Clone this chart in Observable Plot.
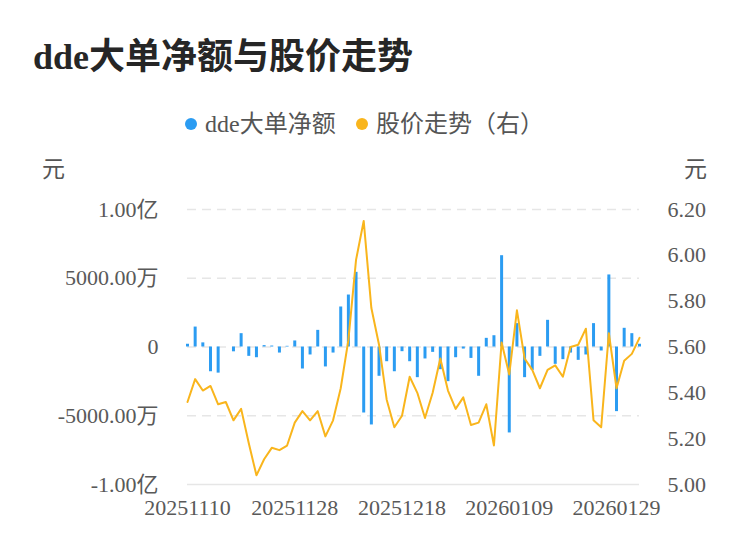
<!DOCTYPE html>
<html>
<head>
<meta charset="utf-8">
<script src="https://cdn.jsdelivr.net/npm/d3@7"></script>
<script src="https://cdn.jsdelivr.net/npm/@observablehq/plot@0.6"></script>
<style>
  html, body { margin: 0; padding: 0; background: #fff; }
  #wrap { position: relative; width: 750px; height: 558px; overflow: hidden;
          font-family: "Liberation Serif", "Noto Sans CJK SC", serif; }
  .abs { position: absolute; white-space: nowrap; }
  #title { left: 33px; top: 36px; font-size: 36px; line-height: 42px; font-weight: bold; color: #262626; }
  .leg { font-size: 24px; line-height: 28px; color: #555; }
  .dot { width: 12px; height: 12px; border-radius: 6px; }
  .unit { font-size: 23px; line-height: 24px; color: #555; }
  #chart { left: 0; top: 150px; }
</style>
</head>
<body>
<div id="wrap">
  <div id="title" class="abs">dde大单净额与股价走势</div>
  <div class="abs dot" style="left:185px;top:118px;background:#2b9cf2"></div>
  <div class="abs leg" style="left:205px;top:110px">dde大单净额</div>
  <div class="abs dot" style="left:356px;top:118px;background:#f9b51c"></div>
  <div class="abs leg" style="left:376px;top:110px">股价走势（右）</div>
  <div class="abs unit" style="left:42px;top:158px">元</div>
  <div class="abs unit" style="left:684px;top:158px">元</div>
  <div id="chart" class="abs"></div>
</div>
<script>
const dates = [
  "20251110","20251111","20251112","20251113","20251114",
  "20251117","20251118","20251119","20251120","20251121",
  "20251124","20251125","20251126","20251127","20251128",
  "20251201","20251202","20251203","20251204","20251205",
  "20251208","20251209","20251210","20251211","20251212",
  "20251215","20251216","20251217","20251218","20251219",
  "20251222","20251223","20251224","20251225","20251226",
  "20251229","20251230","20251231","20260105","20260106",
  "20260107","20260108","20260109","20260112","20260113",
  "20260114","20260115","20260116","20260119","20260120",
  "20260121","20260122","20260123","20260126","20260127",
  "20260128","20260129","20260130","20260202","20260203"
];
// dde大单净额, 单位：万元
const ddeNet = [
  200, 1450, 300, -1800, -1900, 0, -350, 970, -680, -780,
  100, 70, -440, 50, 440, -1600, -580, 1210, -1450, -440,
  2910, 3780, 5430, -4800, -5670, -2130, -1070, -1800, -340, -1070,
  -2230, -870, -390, -1650, -2520, -780, -150, -830, -2130, 630,
  820, 6640, -6250, 1700, -2230, -1700, -680, 1940, -1260, -920,
  -440, -970, -580, 1700, -290, 5240, -4700, 1360, 970, 200
];
// 股价, 单位：元
const price = [
  5.36, 5.46, 5.41, 5.43, 5.35, 5.36, 5.28, 5.33, 5.18, 5.04,
  5.11, 5.16, 5.15, 5.17, 5.27, 5.32, 5.28, 5.32, 5.21, 5.28,
  5.42, 5.63, 5.98, 6.15, 5.77, 5.61, 5.37, 5.25, 5.30, 5.47,
  5.40, 5.29, 5.40, 5.55, 5.41, 5.33, 5.38, 5.26, 5.27, 5.35,
  5.17, 5.62, 5.48, 5.76, 5.55, 5.50, 5.42, 5.50, 5.52, 5.47,
  5.60, 5.61, 5.68, 5.28, 5.25, 5.66, 5.42, 5.54, 5.57, 5.64
];
const xTickLabels = ["20251110","20251128","20251218","20260109","20260129"];
const leftTicksYi = [-1, -0.5, 0, 0.5, 1];           // 单位：亿
const leftTickLabels = ["-1.00亿","-5000.00万","0","5000.00万","1.00亿"];
const rightTicks = [5.00, 5.20, 5.40, 5.60, 5.80, 6.00, 6.20];

// right axis mapping: 5.60 ↔ 0, 0.60元 ↔ 1亿
const priceMid = 5.6, priceSpan = 0.6;
const toLeft = p => (p - priceMid) / priceSpan;

const rows = dates.map((d, i) => ({
  date: d,
  dde: ddeNet[i] / 10000,
  px: toLeft(price[i])
}));

const blue = "#2b9cf2", orange = "#f9b51c";

const chart = Plot.plot({
  width: 750,
  height: 390,
  marginLeft: 187,
  marginRight: 111,
  marginTop: 59,
  marginBottom: 56,
  style: {
    fontFamily: "'Liberation Serif', 'Noto Sans CJK SC', serif",
    fontSize: "22px",
    color: "#595959",
    background: "transparent",
    overflow: "visible"
  },
  x: { type: "point", domain: dates, padding: 0 },
  y: { domain: [-1, 1] },
  marks: [
    Plot.gridY([-0.5, 0, 0.5, 1], { stroke: "#e6e6e6", strokeOpacity: 1, strokeWidth: 1.5, strokeDasharray: "9,6" }),
    Plot.ruleY([-1], { stroke: "#e6e6e6", strokeWidth: 1.5 }),
    Plot.axisY(leftTicksYi, {
      anchor: "left", tickSize: 0, tickPadding: 29, label: null,
      tickFormat: v => leftTickLabels[leftTicksYi.indexOf(v)]
    }),
    Plot.axisY(rightTicks.map(toLeft), {
      anchor: "right", tickSize: 0, tickPadding: 28, label: null,
      tickFormat: v => (v * priceSpan + priceMid).toFixed(2)
    }),
    Plot.axisX(xTickLabels, { tickSize: 0, tickPadding: 15, label: null }),
    Plot.ruleX(rows, { x: "date", y1: 0, y2: "dde", stroke: blue, strokeWidth: 3 }),
    Plot.line(rows, { x: "date", y: "px", stroke: orange, strokeWidth: 2 })
  ]
});
document.getElementById("chart").appendChild(chart);
</script>
</body>
</html>
